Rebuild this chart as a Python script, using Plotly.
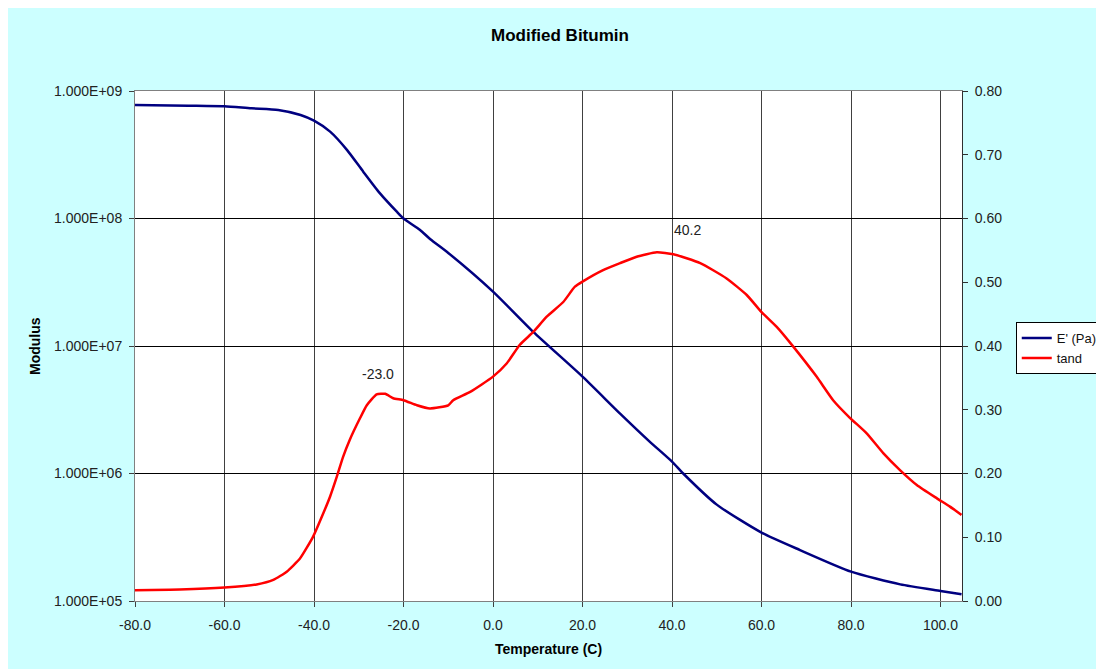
import plotly.graph_objects as go

# E' (Pa) storage modulus
temp_mod = [-80, -68, -60, -54, -48, -43, -40, -36.4, -32.6, -29, -25.3, -21.5, -20, -16.3, -14,
            -10, 0, 9, 20, 28.4, 35, 40, 42.5, 50, 60, 68.6, 80, 91, 100, 104.7]
modulus = [7.76e8, 7.67e8, 7.59e8, 7.31e8, 7.10e8, 6.49e8, 5.85e8, 4.80e8, 3.44e8, 2.33e8, 1.58e8,
           1.13e8, 1.00e8, 8.13e7, 6.87e7, 5.37e7, 2.67e7, 1.29e7, 5.75e6, 2.95e6, 1.78e6, 1.24e6,
           1.00e6, 5.70e5, 3.44e5, 2.51e5, 1.70e5, 1.35e5, 1.20e5, 1.13e5]

# tan delta
temp_tan = [-80, -70, -60, -52.8, -49.1, -46.1, -43.1, -40.2, -37.9, -36.4, -34.9, -33.5, -32, -29.7,
            -28.2, -26, -24.1, -22.3, -20, -17, -14.1, -10, -8.9, -5.1, 0, 3.1, 6, 9, 12, 15.7, 18.3,
            20, 24.6, 28.4, 32.1, 36.6, 40.3, 46.3, 52.2, 56.7, 59.9, 63.4, 67.1, 72.3, 76, 79.8, 83.5,
            87.2, 91, 94.7, 99.2, 102.1, 104.7]
tand = [0.017, 0.018, 0.021, 0.026, 0.033, 0.046, 0.067, 0.101, 0.138, 0.164, 0.195, 0.226, 0.253,
        0.287, 0.307, 0.324, 0.325, 0.318, 0.315, 0.307, 0.302, 0.307, 0.315, 0.328, 0.352, 0.373,
        0.402, 0.422, 0.446, 0.469, 0.493, 0.501, 0.519, 0.530, 0.540, 0.547, 0.544, 0.530, 0.506,
        0.480, 0.454, 0.430, 0.399, 0.352, 0.315, 0.287, 0.263, 0.232, 0.205, 0.182, 0.161, 0.148,
        0.135]

mod_tickvals = [1e5, 1e6, 1e7, 1e8, 1e9]
mod_ticktext = ["1.000E+05", "1.000E+06", "1.000E+07", "1.000E+08", "1.000E+09"]
temp_tickvals = [-80, -60, -40, -20, 0, 20, 40, 60, 80, 100]
temp_ticktext = ["-80.0", "-60.0", "-40.0", "-20.0", "0.0", "20.0", "40.0", "60.0", "80.0", "100.0"]

peak_labels = ["-23.0", "40.2"]
peak_label_x = [-25.7, 43.5]
peak_label_y = [0.356, 0.582]

FONT = "Liberation Sans, Arial, sans-serif"
CYAN = "#CCFFFF"

fig = go.Figure()
fig.add_trace(go.Scatter(x=temp_mod, y=modulus, mode="lines", name="E' (Pa)",
                         line=dict(color="#000080", width=2.5, shape="spline", smoothing=0.6),
                         yaxis="y"))
fig.add_trace(go.Scatter(x=temp_tan, y=tand, mode="lines", name="tand",
                         line=dict(color="#FF0000", width=2.5, shape="spline", smoothing=0.5),
                         yaxis="y2"))

tickfont = dict(family=FONT, size=14, color="#222222")

fig.update_layout(
    width=1096, height=661,
    margin=dict(l=127, r=142, t=83, b=68, autoexpand=False),
    paper_bgcolor=CYAN,
    plot_bgcolor="white",
    showlegend=True,
    legend=dict(x=1.0650, y=0.547, xanchor="left", yanchor="top",
                bgcolor="white", bordercolor="black", borderwidth=1,
                font=dict(family=FONT, size=13, color="#111111"),
                itemwidth=30, tracegroupgap=0),
    xaxis=dict(range=[-80, 104.8], tickvals=temp_tickvals, ticktext=temp_ticktext,
               showgrid=True, gridcolor="#404040", gridwidth=1,
               showline=True, linecolor="#808080", linewidth=1, mirror=True,
               ticks="outside", ticklen=5, tickcolor="#404040",
               tickfont=tickfont, ticklabelstandoff=6, zeroline=False),
    yaxis=dict(type="log", range=[5, 9], tickvals=mod_tickvals, ticktext=mod_ticktext,
               showgrid=True, gridcolor="black", gridwidth=1,
               showline=True, linecolor="#808080", linewidth=1,
               ticks="outside", ticklen=5, tickcolor="#404040",
               tickfont=tickfont, ticklabelstandoff=4, zeroline=False),
    yaxis2=dict(overlaying="y", side="right", range=[0, 0.8], dtick=0.1, tick0=0,
                tickformat=".2f", showgrid=False, showline=True, linecolor="#303030",
                linewidth=1, ticks="outside", ticklen=5, tickcolor="#303030",
                tickfont=tickfont, ticklabelstandoff=4, zeroline=False),
)

annotations = [
    dict(text="<b>Modified Bitumin</b>", xref="paper", yref="paper", x=0.514, y=1.108,
         xanchor="center", yanchor="middle", showarrow=False,
         font=dict(family=FONT, size=17, color="black")),
    dict(text="<b>Temperature (C)</b>", xref="paper", yref="paper", x=0.4994, y=-0.094,
         xanchor="center", yanchor="middle", showarrow=False,
         font=dict(family=FONT, size=14, color="black")),
    dict(text="<b>Modulus</b>", xref="paper", yref="paper", x=-0.1209, y=0.5,
         xanchor="center", yanchor="middle", showarrow=False, textangle=-90,
         font=dict(family=FONT, size=14, color="black")),
]
for t, lx, ly in zip(peak_labels, peak_label_x, peak_label_y):
    annotations.append(dict(text=t, x=lx, y=ly, xref="x", yref="y2", showarrow=False,
                            xanchor="center", yanchor="middle",
                            font=dict(family=FONT, size=14, color="#222222")))
fig.update_layout(annotations=annotations)

fig.write_html("out.html")
